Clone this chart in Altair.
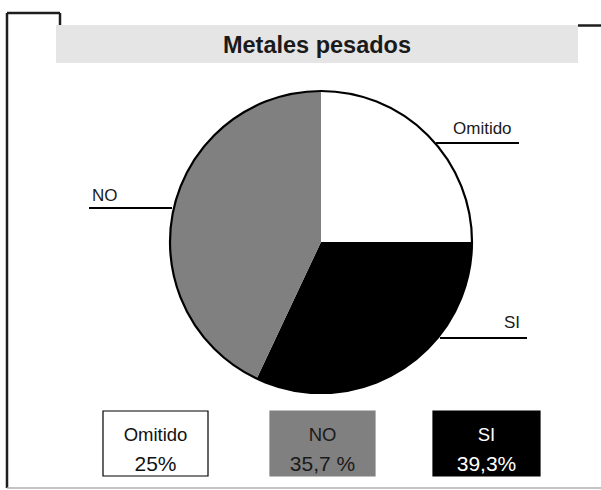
import altair as alt
import pandas as pd

# ---- data ----
categories = ["Omitido", "SI", "NO"]          # pie order, clockwise from 12 o'clock
slice_values = [25, 32, 43]                    # slice sizes as drawn in the picture
legend_labels = ["Omitido", "NO", "SI"]
legend_pcts = ["25%", "35,7 %", "39,3%"]
title_text = "Metales pesados"

# ---- styles / layout ----
W, H = 601, 490
FONT = "Liberation Sans"
slice_colors = {"Omitido": "#ffffff", "SI": "#000000", "NO": "#808080"}
legend_text_colors = {"Omitido": "#111111", "NO": "#1a1a1a", "SI": "#ffffff"}
legend_stroke = {"Omitido": "#000000", "NO": "#808080", "SI": "#000000"}
legend_x = {"Omitido": (103, 208), "NO": (270, 375), "SI": (433, 540)}
legend_y = (411, 476)
pie_cx, pie_cy, pie_r = 321, 242, 151
callouts = {  # label: (text x, text baseline y, line x1, line x2, line y)
    "Omitido": (453, 134, 436, 519, 143),
    "NO": (92, 201, 89, 172, 208),
    "SI": (504, 328, 440, 527, 338),
}

xs = alt.Scale(domain=[0, W], range=[0, W])
ys = alt.Scale(domain=[0, H], range=[0, H])

def X(f):
    return alt.X(f, type="quantitative", scale=xs, axis=None)

def Y(f):
    return alt.Y(f, type="quantitative", scale=ys, axis=None)

# title box
title_box = alt.Chart(pd.DataFrame({"x": [56], "x2": [578], "y": [25], "y2": [63]})).mark_rect(
    fill="#e5e5e5"
).encode(x=X("x"), x2="x2", y=Y("y"), y2="y2")

title = alt.Chart(pd.DataFrame({"x": [317], "y": [52.5], "t": [title_text]})).mark_text(
    font=FONT, fontSize=23.5, fontWeight="bold", color="#1a1a1a", align="center", baseline="alphabetic"
).encode(x=X("x"), y=Y("y"), text="t:N")

# frame lines
frame_df = pd.DataFrame({
    "x": [7, 7, 60, 578],
    "x2": [60, 7, 60, 601],
    "y": [13, 13, 13, 25.5],
    "y2": [13, 488, 25, 25.5],
})
frame = alt.Chart(frame_df).mark_rule(color="#1e1e1e", strokeWidth=2.5).encode(
    x=X("x"), x2="x2", y=Y("y"), y2="y2"
)
bottom = alt.Chart(pd.DataFrame({"x": [7], "x2": [601], "y": [488], "y2": [488]})).mark_rule(
    color="#b0b0b0", strokeWidth=1.5
).encode(x=X("x"), x2="x2", y=Y("y"), y2="y2")

# pie
pie_df = pd.DataFrame({"cat": categories, "val": slice_values, "ord": list(range(len(categories)))})
pie = alt.Chart(pie_df).mark_arc(radius=pie_r).encode(
    theta=alt.Theta("val:Q", stack=True),
    color=alt.Color("cat:N", scale=alt.Scale(domain=list(slice_colors), range=list(slice_colors.values())), legend=None),
    order=alt.Order("ord:Q"),
    x=alt.value(pie_cx),
    y=alt.value(pie_cy),
)
outline = alt.Chart(pd.DataFrame({"a": [1]})).mark_arc(
    radius=pie_r, theta=0, theta2=7, fillOpacity=0, stroke="#000000", strokeWidth=2.2
).encode(x=alt.value(pie_cx), y=alt.value(pie_cy))

# callouts
co_df = pd.DataFrame([
    {"lab": k, "tx": v[0], "ty": v[1], "lx1": v[2], "lx2": v[3], "ly": v[4]} for k, v in callouts.items()
])
co_lines = alt.Chart(co_df).mark_rule(color="#000000", strokeWidth=1.8).encode(
    x=X("lx1"), x2="lx2", y=Y("ly"), y2="ly"
)
co_text = alt.Chart(co_df).mark_text(
    font=FONT, fontSize=17, color="#1a1a1a", align="left", baseline="alphabetic"
).encode(x=X("tx"), y=Y("ty"), text="lab:N")

# legend boxes
lg_df = pd.DataFrame({
    "lab": legend_labels,
    "pct": legend_pcts,
    "x": [legend_x[k][0] for k in legend_labels],
    "x2": [legend_x[k][1] for k in legend_labels],
    "cx": [(legend_x[k][0] + legend_x[k][1]) / 2 for k in legend_labels],
    "y": [legend_y[0]] * 3,
    "y2": [legend_y[1]] * 3,
    "fillc": [slice_colors[k] for k in legend_labels],
    "strokec": [legend_stroke[k] for k in legend_labels],
    "textc": [legend_text_colors[k] for k in legend_labels],
    "ly1": [441] * 3,
    "ly2": [471] * 3,
})
boxes = alt.Chart(lg_df).mark_rect(strokeWidth=1.2).encode(
    x=X("x"), x2="x2", y=Y("y"), y2="y2",
    fill=alt.Fill("fillc:N", scale=None),
    stroke=alt.Stroke("strokec:N", scale=None),
)
box_lab = alt.Chart(lg_df).mark_text(font=FONT, fontSize=18.5, align="center", baseline="alphabetic").encode(
    x=X("cx"), y=Y("ly1"), text="lab:N", fill=alt.Fill("textc:N", scale=None)
)
box_pct = alt.Chart(lg_df).mark_text(font=FONT, fontSize=21, align="center", baseline="alphabetic").encode(
    x=X("cx"), y=Y("ly2"), text="pct:N", fill=alt.Fill("textc:N", scale=None)
)

chart = alt.layer(
    title_box, title, frame, bottom, pie, outline, co_lines, co_text, boxes, box_lab, box_pct
).properties(
    width=W, height=H, autosize=alt.AutoSizeParams(type="none"), padding=0, background="#ffffff"
).configure_view(stroke=None)

chart.save("out.html", embed_options={"renderer": "svg", "actions": False})
